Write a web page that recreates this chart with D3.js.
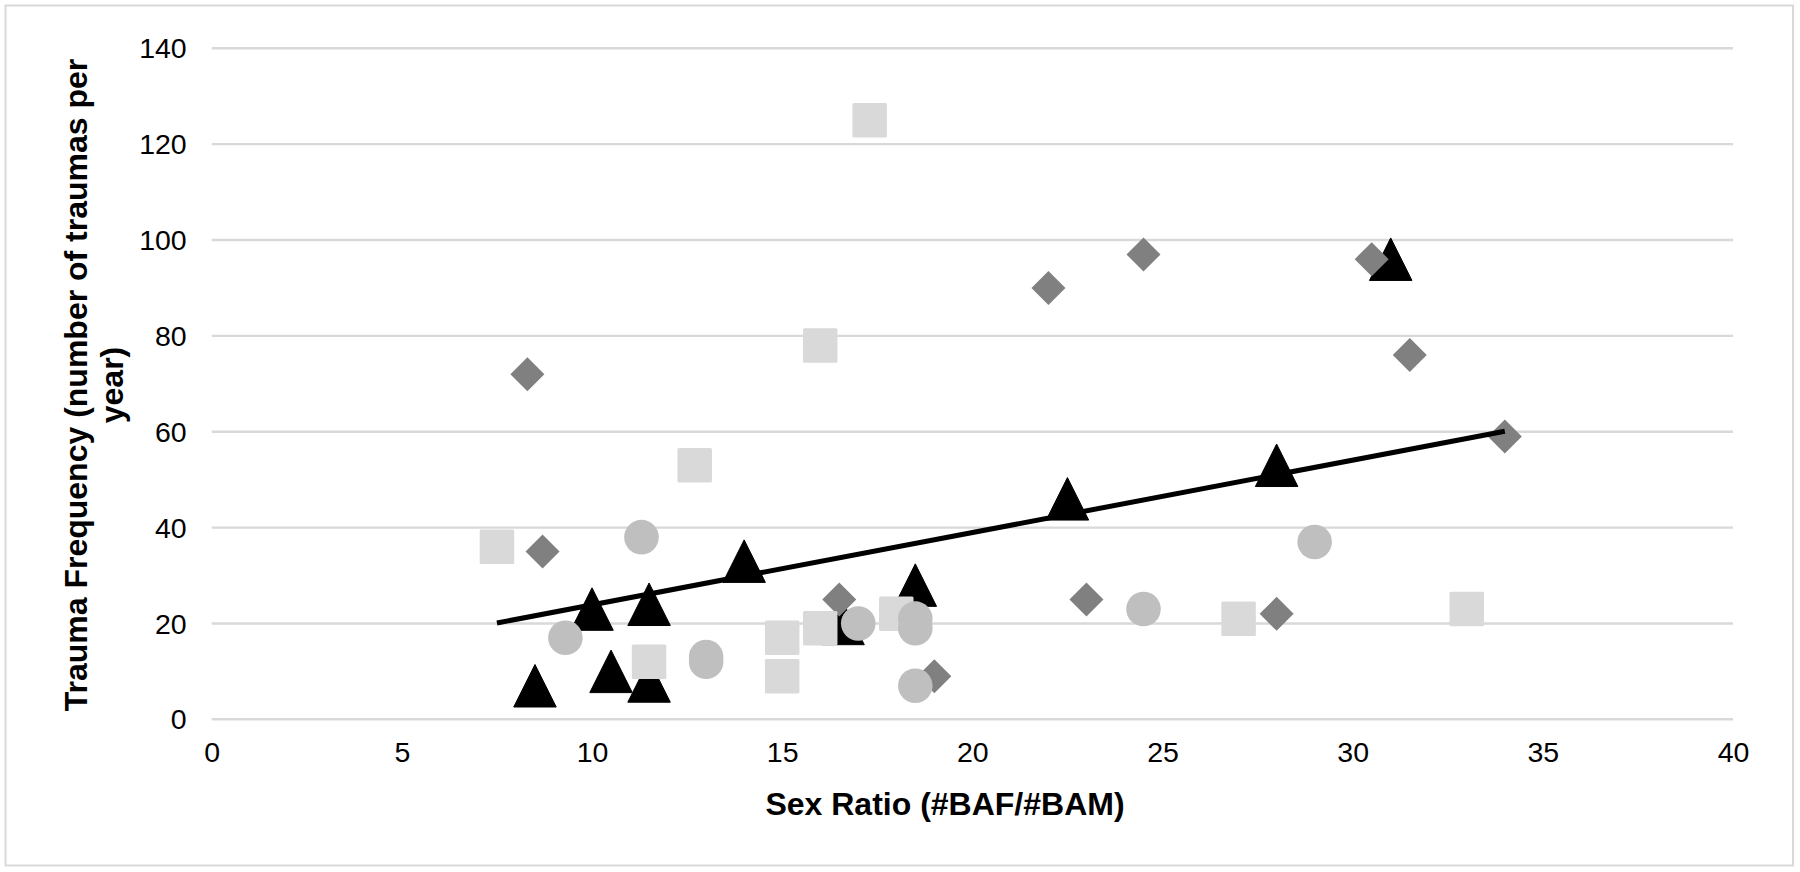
<!DOCTYPE html>
<html>
<head>
<meta charset="utf-8">
<script src="https://cdn.jsdelivr.net/npm/d3@7"></script>
<style>
  html, body { margin: 0; padding: 0; background: #fff; }
  svg { display: block; }
  text { font-family: "Liberation Sans", Arial, sans-serif; fill: #000; }
</style>
</head>
<body>
<svg id="chart" width="1800" height="872"></svg>
<script>
// ---- Data ----
const xTicks = [0, 5, 10, 15, 20, 25, 30, 35, 40];
const yTicks = [0, 20, 40, 60, 80, 100, 120, 140];

// Series 1: dark grey diamonds
const diamondX = [8.3, 8.7, 16.5, 19, 22, 23, 24.5, 28, 30.5, 31.5, 34];
const diamondY = [72, 35, 25, 9, 90, 25, 97, 22, 96, 76, 59];

// Series 2: light grey squares
const squareX = [7.5, 11.5, 12.7, 15, 15, 16, 16, 17.3, 18, 27, 33];
const squareY = [36, 12, 53, 17, 9, 19, 78, 125, 22, 21, 23];

// Series 3: black triangles
const triangleX = [8.5, 10, 10.5, 11.5, 11.5, 14, 16.6, 18.5, 22.5, 28, 31];
const triangleY = [7, 23, 10, 24, 8, 33, 20, 28, 46, 53, 96];

// Series 4: grey circles
const circleX = [9.3, 11.3, 13, 13, 17, 18.5, 18.5, 18.5, 24.5, 29];
const circleY = [17, 38, 13, 12, 20, 21, 19, 7, 23, 37];

// Linear trend line end points
const trendX = [7.5, 34];
const trendY = [20.1, 60.1];

const xTitle = "Sex Ratio (#BAF/#BAM)";
const yTitleLines = ["Trauma Frequency (number of traumas per", "year)"];

// ---- Layout ----
const svg = d3.select("#chart");
const x = d3.scaleLinear().domain([0, 40]).range([211.7, 1733]);
const y = d3.scaleLinear().domain([0, 140]).range([719.3, 48.3]);

// outer border
svg.append("rect")
  .attr("x", 5.5).attr("y", 5.5)
  .attr("width", 1787.5).attr("height", 860)
  .attr("fill", "#fff").attr("stroke", "#d9d9d9").attr("stroke-width", 2);

// gridlines
svg.append("g").selectAll("line").data(yTicks).join("line")
  .attr("x1", x(0)).attr("x2", x(40))
  .attr("y1", d => y(d)).attr("y2", d => y(d))
  .attr("stroke", "#d9d9d9").attr("stroke-width", 2.4);

// y axis labels
const yAxis = d3.axisLeft(y).tickValues(yTicks).tickSize(0).tickPadding(0);
const gy = svg.append("g").attr("transform", `translate(186.7,0)`).call(yAxis);
gy.select(".domain").remove();
gy.selectAll("text")
  .attr("font-size", "28.5px")
  .attr("font-family", '"Liberation Sans", Arial, sans-serif')
  .attr("fill", "#000")
  .attr("x", 0).attr("dy", null).attr("dominant-baseline", null)
  .attr("y", 9.6)
  .attr("text-anchor", "end");

// x axis labels
const xAxis = d3.axisBottom(x).tickValues(xTicks).tickSize(0).tickPadding(0).tickFormat(d3.format("d"));
const gx = svg.append("g").attr("transform", `translate(0,0)`).call(xAxis);
gx.select(".domain").remove();
gx.selectAll("text")
  .attr("font-size", "28.5px")
  .attr("font-family", '"Liberation Sans", Arial, sans-serif')
  .attr("fill", "#000")
  .attr("dy", null)
  .attr("y", 761.7)
  .attr("text-anchor", "middle");

// axis titles
svg.append("text")
  .attr("x", 945).attr("y", 815)
  .attr("text-anchor", "middle")
  .attr("font-size", "32px").attr("font-weight", "bold")
  .text(xTitle);

const yt = svg.append("text")
  .attr("transform", "translate(86.7,385) rotate(-90)")
  .attr("text-anchor", "middle")
  .attr("font-size", "32px").attr("font-weight", "bold");
yt.selectAll("tspan").data(yTitleLines).join("tspan")
  .attr("x", 0).attr("dy", (d, i) => i === 0 ? 0 : 36.5)
  .text(d => d);

// markers
const zipXY = (xs, ys) => xs.map((v, i) => ({ x: v, y: ys[i] }));

// triangles (bottom layer)
const triW = 42.5, triH = 42.5;
svg.append("g").selectAll("path").data(zipXY(triangleX, triangleY)).join("path")
  .attr("d", d => {
    const cx = x(d.x), cy = y(d.y);
    return `M${cx},${cy - triH / 2}L${cx + triW / 2},${cy + triH / 2}L${cx - triW / 2},${cy + triH / 2}Z`;
  })
  .attr("fill", "#000").attr("stroke", "#000").attr("stroke-width", 1).attr("stroke-linejoin", "round");

// diamonds
const dmd = 17;
svg.append("g").selectAll("path").data(zipXY(diamondX, diamondY)).join("path")
  .attr("d", d => {
    const cx = x(d.x), cy = y(d.y);
    return `M${cx},${cy - dmd}L${cx + dmd},${cy}L${cx},${cy + dmd}L${cx - dmd},${cy}Z`;
  })
  .attr("fill", "#808080");

// squares
const sq = 34.5;
svg.append("g").selectAll("rect").data(zipXY(squareX, squareY)).join("rect")
  .attr("x", d => x(d.x) - sq / 2).attr("y", d => y(d.y) - sq / 2)
  .attr("width", sq).attr("height", sq).attr("rx", 1.5)
  .attr("fill", "#d9d9d9");

// circles
svg.append("g").selectAll("circle").data(zipXY(circleX, circleY)).join("circle")
  .attr("cx", d => x(d.x)).attr("cy", d => y(d.y)).attr("r", 17.3)
  .attr("fill", "#bfbfbf");

// trend line (top)
const line = d3.line().x(d => x(d.x)).y(d => y(d.y));
svg.append("path")
  .datum(zipXY(trendX, trendY))
  .attr("d", line)
  .attr("fill", "none").attr("stroke", "#000").attr("stroke-width", 5);
</script>
</body>
</html>
